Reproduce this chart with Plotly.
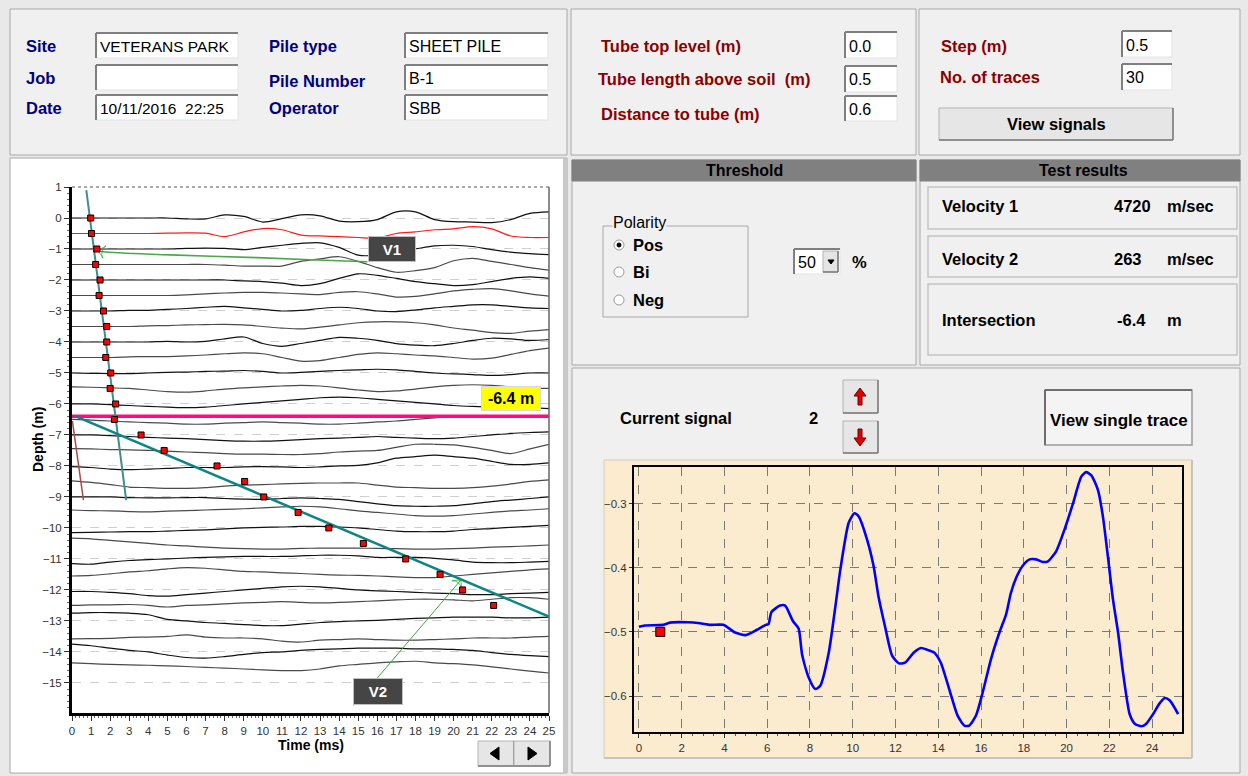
import plotly.graph_objects as go

# ------------------------------------------------------------------ data
time_ms = [0, 1, 2, 3, 4, 5, 6, 7, 8, 9, 10, 11, 12, 13, 14, 15, 16, 17, 18, 19, 20, 21, 22, 23, 24, 25]

trace_depths = [0.0, -0.5, -1.0, -1.5, -2.0, -2.5, -3.0, -3.5, -4.0, -4.5,
                -5.0, -5.5, -6.0, -6.5, -7.0, -7.5, -8.0, -8.5, -9.0, -9.5,
                -10.0, -10.5, -11.0, -11.5, -12.0, -12.5, -13.0, -13.5, -14.0, -14.5]

# trace amplitude, in cm of depth-scale offset, one value per ms
tr00 = [0, 0, 0, 0, 0, 0, -3, -3, 10, 5, -13, -2, 10, 7, -10, -12, -5, 20, 20, -5, -12, -13, -15, -5, 15, 20]
tr01 = [0, 0, 0, 0, 0, 1, 2, 1, -10, 5, 16, 12, -5, -8, -10, -13, -15, 0, 5, 12, 15, 22, 15, -8, -13, -13]
tr02 = [0, 0, 0, 0, 0, 0, 2, 3, 2, -2, 5, 12, 18, 20, 5, -20, -20, -10, 0, 10, 12, 8, -2, -10, -15, -18]
tr03 = [0, 0, 0, 0, 0, 0, 0, 0, -2, -5, -5, -5, 10, 18, 25, 10, -10, -25, -20, -10, 12, 20, 10, 0, -10, -18]
tr04 = [0, 0, 0, 0, 0, 0, 0, 0, 0, -3, -5, -10, -18, -12, 5, 20, 15, 5, -5, -12, -18, -15, -5, 5, 10, 5]
tr05 = [0, 0, 0, 0, 0, 0, 2, 5, 8, 10, 10, 8, 5, 3, 10, 12, 5, -5, -3, 5, 15, 20, 22, 15, 5, -2]
tr06 = [0, 0, 0, 2, 2, 5, 8, 12, 15, 10, 5, 0, 2, 8, 12, 8, 0, -2, 3, 10, 15, 20, 20, 15, 10, 8]
tr07 = [0, 0, 0, 0, 2, 3, 5, 6, 7, 5, 0, -5, -8, -2, 5, 12, 15, 15, 12, 5, -5, -12, -20, -22, -15, -10]
tr08 = [0, 0, 0, 0, 0, 2, 0, 2, 10, 16, -5, -14, -5, 5, 15, 12, 5, -5, -10, -12, -5, 5, 12, 10, 5, 8]
tr09 = [0, 0, 0, 2, 3, 3, 5, 8, 12, 15, 12, 0, -12, -10, 0, 10, 15, 12, 8, 5, 0, -5, -2, 10, 22, 30]
tr10 = [0, -1, -2, -2, 0, 2, 3, 5, 6, 8, 5, 0, 2, 5, 8, 10, 12, 10, 5, 0, -3, -5, -8, -5, 0, 0]
tr11 = [5, 4, 2, 0, -5, -10, -12, -8, -2, 2, 5, 8, 10, 8, 2, -5, -10, -8, -2, 5, 10, 12, 10, 5, 2, 0]
tr12 = [0, 0, -2, -5, -8, -10, -12, -10, -5, 0, 5, 10, 15, 20, 22, 20, 15, 10, 5, 0, -5, -8, -10, -10, -12, -15]
tr13 = [0, -2, -5, -8, -10, -12, -15, -15, -12, -10, -8, -10, -12, -15, -15, -12, -8, -5, 0, 5, 10, 10, 10, 10, 10, 10]
tr14 = [0, 0, -2, -5, -8, -10, -12, -15, -18, -20, -20, -18, -15, -12, -10, -8, -5, -8, -10, -12, -10, -5, 0, 5, 8, 10]
tr15 = [6, 5, 3, 2, 0, -2, -5, -7, -10, -12, -12, -13, -13, -10, -5, -2, 0, 10, 20, 20, 18, 10, 0, -10, 5, 20]
tr16 = [-2, -5, -10, -12, -10, -8, -5, -5, -5, -3, -2, -3, -5, -3, 0, 2, 10, 25, 30, 35, 30, 25, 15, 5, 5, 10]
tr17 = [2, -3, -10, -18, -20, -22, -22, -20, -15, -12, -10, -8, -6, -5, -5, -5, -12, -18, -20, -22, -22, -20, -15, -8, 0, 5]
tr18 = [0, 0, 0, -2, -3, -3, -2, -2, -5, -7, -8, -5, -3, -5, -8, -15, -22, -28, -30, -30, -28, -22, -15, -10, -5, 0]
tr19 = [8, 6, 5, 3, 2, 4, 6, 8, 10, 12, 15, 18, 20, 18, 12, 5, 0, -5, -10, -12, -10, -5, 0, 5, 8, 12]
tr20 = [-15, -14, -13, -12, -12, -10, -8, -6, -3, 0, 2, 3, 5, 5, 3, 0, -5, -10, -12, -12, -10, -5, -2, 2, 5, 8]
tr21 = [17, 15, 10, 5, 0, -5, -8, -12, -15, -17, -18, -18, -16, -15, -15, -15, -16, -17, -18, -18, -17, -15, -12, -10, -8, -5]
tr22 = [-15, -17, -10, -5, -2, 0, 3, 5, 7, 8, 8, 8, 10, 12, 12, 10, 5, 5, 5, 2, -3, -10, -12, -12, -10, -8]
tr23 = [-5, -3, 2, 8, 12, 18, 22, 20, 15, 10, 8, 5, 3, 0, -2, -3, -5, -8, -10, -10, -5, 0, 5, 10, 15, 18]
tr24 = [-5, -5, -8, -12, -18, -20, -15, -10, -5, 0, 5, 10, 12, 10, 5, 0, -3, -5, -8, -10, -12, -15, -15, -12, -10, -8]
tr25 = [0, 2, 2, 3, 0, -5, 0, 2, 5, 8, 10, 12, 10, 8, 10, 12, 15, 18, 20, 20, 18, 15, 20, 25, 25, 20]
tr26 = [25, 27, 27, 25, 20, 5, 0, -5, -8, -12, -15, -15, -10, -5, -2, 0, 2, 5, 8, 10, 12, 12, 12, 10, 10, 12]
tr27 = [-8, -7, -6, -3, -2, 0, 5, -2, -5, -5, -8, -15, -18, -12, -10, -8, -10, -12, -12, -10, -8, -5, -5, -5, -2, 0]
tr28 = [25, 20, 12, 5, 0, -10, -18, -20, -15, -8, -2, 0, 5, 8, 10, 12, 12, 12, 10, 10, 8, 5, -2, -8, -12, -15]
tr29 = [15, 12, 10, 8, 7, 5, 3, 0, -2, -5, -8, -10, -10, -5, 5, 10, 15, 18, 20, 15, 12, 8, 2, -5, -12, -18]
trace_offsets = [tr00, tr01, tr02, tr03, tr04, tr05, tr06, tr07, tr08, tr09,
                 tr10, tr11, tr12, tr13, tr14, tr15, tr16, tr17, tr18, tr19,
                 tr20, tr21, tr22, tr23, tr24, tr25, tr26, tr27, tr28, tr29]
current_trace = 1

pick_time = [0.98, 1.02, 1.3, 1.24, 1.47, 1.42, 1.65, 1.82, 1.82, 1.77, 2.03, 2.0, 2.29,
             2.22, 3.62, 4.83, 7.6, 9.05, 10.05, 11.85, 13.46, 15.27, 17.49, 19.29, 20.47, 22.1]
pick_depth = [0.0, -0.5, -1.0, -1.5, -2.0, -2.5, -3.0, -3.5, -4.0, -4.5, -5.0, -5.5, -6.0,
              -6.5, -7.0, -7.5, -8.0, -8.5, -9.0, -9.5, -10.0, -10.5, -11.0, -11.5, -12.0, -12.5]

v1_time = [0.75, 2.84]
v1_depth = [0.9, -9.1]
v2_time = [0.2, 25.0]
v2_depth = [-6.4, -12.86]
aux_time = [0.02, 0.6]
aux_depth = [-6.55, -9.1]
intersection_time = [0, 25]
intersection_depth = [-6.4, -6.4]
arrow1_time = [15.48, 12.85, 9.7, 5.15, 1.65, 1.38]
arrow1_depth = [-1.41, -1.355, -1.28, -1.19, -1.09, -1.05]
arrow2_time = [14.77, 20.38]
arrow2_depth = [-15.73, -11.68]

depth_ticks = [1, 0, -1, -2, -3, -4, -5, -6, -7, -8, -9, -10, -11, -12, -13, -14, -15]
time_ticks = [0, 1, 2, 3, 4, 5, 6, 7, 8, 9, 10, 11, 12, 13, 14, 15, 16, 17, 18, 19, 20, 21, 22, 23, 24, 25]

sig_time = [0, 0.28, 1.14, 1.45, 2.3, 2.86, 3.33, 3.95, 4.5, 5.0, 5.5, 5.94, 6.06, 6.2, 6.6, 6.84, 7.2,
            7.47, 7.63, 7.94, 8.25, 8.48, 8.88, 9.19, 9.42, 9.81, 10.08, 10.28, 10.67, 10.98, 11.2, 11.5,
            11.84, 12.16, 12.45, 12.86, 13.19, 13.5, 13.81, 14.12, 14.6, 14.9, 15.22, 15.45, 15.77, 16.08,
            16.47, 16.86, 17.17, 17.4, 17.64, 17.95, 18.27, 18.58, 18.89, 19.13, 19.52, 19.9, 20.3, 20.69,
            20.92, 21.16, 21.47, 21.7, 21.95, 22.17, 22.41, 22.64, 22.95, 23.19, 23.5, 23.73, 24.05, 24.36,
            24.6, 24.83, 25.22]
sig_value = [-0.492, -0.490, -0.489, -0.4855, -0.485, -0.4866, -0.489, -0.489, -0.501, -0.505, -0.497,
             -0.489, -0.488, -0.469, -0.459, -0.459, -0.483, -0.495, -0.535, -0.571, -0.589, -0.584,
             -0.532, -0.46, -0.403, -0.33, -0.315, -0.32, -0.356, -0.398, -0.444, -0.49, -0.537, -0.549,
             -0.548, -0.532, -0.525, -0.528, -0.532, -0.548, -0.599, -0.63, -0.646, -0.646, -0.63, -0.594,
             -0.542, -0.501, -0.473, -0.439, -0.416, -0.397, -0.387, -0.387, -0.391, -0.39, -0.374, -0.341,
             -0.3, -0.258, -0.251, -0.256, -0.279, -0.32, -0.387, -0.449, -0.501, -0.563, -0.628, -0.643,
             -0.647, -0.643, -0.628, -0.611, -0.603, -0.607, -0.628]
sig_pick_time = [1.0]
sig_pick_value = [-0.5]
sig_xticks = [0, 2, 4, 6, 8, 10, 12, 14, 16, 18, 20, 22, 24]
sig_yticks = [-0.6, -0.5, -0.4, -0.3]

# ------------------------------------------------------------------ helpers
W, H = 1248, 776
FONT = "Liberation Sans, Arial, sans-serif"
NAVY = "#000080"
DRED = "#8b0000"


def PX(x):
    return x / W


def PY(y):
    return 1 - y / H


shapes = []
annos = []


def rect(x0, y0, x1, y1, fill, line="#a0a0a0", lw=1, layer="below", dash="solid"):
    shapes.append(dict(type="rect", xref="paper", yref="paper", x0=PX(x0), x1=PX(x1),
                       y0=PY(y1), y1=PY(y0), fillcolor=fill,
                       line=dict(color=line, width=lw, dash=dash), layer=layer))


def seg(x0, y0, x1, y1, color, lw=1, dash="solid", layer="below"):
    shapes.append(dict(type="line", xref="paper", yref="paper", x0=PX(x0), x1=PX(x1),
                       y0=PY(y0), y1=PY(y1), line=dict(color=color, width=lw, dash=dash), layer=layer))


def poly(pts, fill, line="#000000", lw=1, layer="above"):
    p = "M " + " L ".join(f"{PX(a):.5f},{PY(b):.5f}" for a, b in pts) + " Z"
    shapes.append(dict(type="path", xref="paper", yref="paper", path=p, fillcolor=fill,
                       line=dict(color=line, width=lw), layer=layer))


def circle(cx, cy, r, fill, line="#808080", lw=1):
    shapes.append(dict(type="circle", xref="paper", yref="paper", x0=PX(cx - r), x1=PX(cx + r),
                       y0=PY(cy + r), y1=PY(cy - r), fillcolor=fill, line=dict(color=line, width=lw),
                       layer="above"))


def text(x, y, s, size=16.5, color="#000000", bold=True, xanchor="left", bg=None, angle=0):
    d = dict(xref="paper", yref="paper", x=PX(x), y=PY(y), text=(f"<b>{s}</b>" if bold else s),
             showarrow=False, xanchor=xanchor, yanchor="middle", textangle=angle,
             font=dict(family=FONT, size=size, color=color), borderpad=0)
    if bg:
        d["bgcolor"] = bg
    annos.append(d)


def inputbox(x0, y0, x1, y1, s, size=16):
    rect(x0, y0, x1, y1, "#ffffff", line="#e3e3e3")
    seg(x0, y0, x1, y0, "#7f7f7f", 2)
    seg(x0, y0, x0, y1, "#7f7f7f", 2)
    if s:
        text(x0 + 3, (y0 + y1) / 2 + 1, s, size=size, bold=False)


def button(x0, y0, x1, y1, s=None, size=16.5, fill="#e6e6e6"):
    rect(x0, y0, x1, y1, fill, line="#b4b4b4")
    seg(x0, y1, x1, y1, "#7a7a7a", 1.5)
    seg(x1, y0, x1, y1, "#7a7a7a", 1.5)
    if s:
        text((x0 + x1) / 2, (y0 + y1) / 2, s, size=size, xanchor="center")


PANEL = "#f0f0f0"
# ------------------------------------------------------------------ panels
rect(10, 9, 567, 155, PANEL, line="#a8a8a8")
rect(571, 9, 916, 155, PANEL, line="#a8a8a8")
rect(919, 9, 1240, 155, PANEL, line="#a8a8a8")
rect(10, 158, 567, 773, "#ffffff", line="#a8a8a8")
seg(565, 158, 565, 773, "#c8c8c8", 4)
rect(572, 160, 916, 365, PANEL, line="#a8a8a8")
rect(920, 160, 1240, 365, PANEL, line="#a8a8a8")
rect(572, 160, 916, 181, "#808080", line="#808080")
rect(920, 160, 1240, 181, "#808080", line="#808080")
rect(572, 368, 1240, 773, PANEL, line="#a8a8a8")
rect(604, 460, 1192, 758, "#fbebcf", line="#d9ccb2")
seg(604, 758, 1192, 758, "#c4c4c4", 2)
seg(1192, 460, 1192, 758, "#c4c4c4", 2)

# top-left panel
text(25, 46, "Site", color=NAVY)
text(25, 78, "Job", color=NAVY)
text(25, 108, "Date", color=NAVY)
text(268, 46, "Pile type", color=NAVY)
text(268, 81, "Pile Number", color=NAVY)
text(268, 108, "Operator", color=NAVY)
inputbox(96, 33, 238, 58, "VETERANS PARK", size=15.5)
inputbox(96, 65, 238, 90, "")
inputbox(96, 95, 238, 120, "10/11/2016  22:25", size=15.5)
inputbox(405, 33, 548, 58, "SHEET PILE")
inputbox(405, 65, 548, 90, "B-1")
inputbox(405, 95, 548, 120, "SBB")

# top-middle panel
text(600, 46, "Tube top level (m)", color=DRED)
text(597, 79, "Tube length above soil  (m)", color=DRED)
text(600, 114, "Distance to tube (m)", color=DRED)
inputbox(845, 32, 897, 58, "0.0")
inputbox(845, 66, 897, 92, "0.5")
inputbox(845, 96, 897, 121, "0.6")

# top-right panel
text(940, 46, "Step (m)", color=DRED)
text(939, 77, "No. of traces", color=DRED)
inputbox(1122, 31, 1172, 57, "0.5")
inputbox(1122, 64, 1172, 90, "30")
button(939, 108, 1173, 140, "View signals")

# threshold panel
text(744, 170, "Threshold", xanchor="center", size=16)
rect(603, 226, 748, 317, "rgba(0,0,0,0)", line="#a8a8a8")
text(612, 222, "Polarity", bold=False, bg=PANEL, size=16)
for cy, lab in [(245, "Pos"), (272, "Bi"), (300, "Neg")]:
    circle(619, cy, 5, "#ffffff", line="#9a9a9a")
    text(632, cy, lab, size=16.5)
circle(619, 245, 2, "#000000", line="#000000")
inputbox(794, 249, 840, 274, "50")
button(823, 251, 838, 272, None, fill="#e4e4e4")
poly([(828, 260), (834, 260), (831, 264)], "#000000", line="#000000")
text(851, 262, "%", size=16.5)

# test results panel
text(1083, 170, "Test results", xanchor="center", size=16)
for (y0, y1) in [(187, 229), (236, 277), (284, 355)]:
    rect(928, y0, 1237, y1, PANEL, line="#c4c4c4", lw=1.5)
text(941, 206, "Velocity 1")
text(1113, 206, "4720")
text(1166, 206, "m/sec")
text(941, 259, "Velocity 2")
text(1113, 259, "263")
text(1166, 259, "m/sec")
text(941, 320, "Intersection")
text(1116, 320, "-6.4")
text(1166, 320, "m")

# current-signal controls
text(619, 418, "Current signal")
text(808, 418, "2")
button(843, 380, 878, 413)
button(843, 421, 878, 453)
poly([(858, 405), (858, 396), (854, 396), (860, 388), (866, 396), (862, 396), (862, 405)],
     "#e00000", line="#700000")
poly([(858, 429), (858, 438), (854, 438), (860, 446), (866, 438), (862, 438), (862, 429)],
     "#e00000", line="#700000")
rect(1045, 390, 1192, 445, "#f4f4f4", line="#9a9a9a", lw=1.5)
seg(1045, 390, 1192, 390, "#6e6e6e", 2)
seg(1045, 390, 1045, 445, "#6e6e6e", 2)
text(1119, 421, "View single trace", xanchor="center", size=17)

# navigation buttons under the trace chart
button(478, 741, 514, 766)
button(514, 741, 550, 766)
poly([(499, 747), (490, 753.5), (499, 760)], "#000000", line="#000000")
poly([(528, 747), (537, 753.5), (528, 760)], "#000000", line="#000000")

# trace-chart frame (top dashed, right solid) and axis titles
seg(72, 187, 549, 187, "#555555", 1, dash="dot", layer="above")
seg(549, 187, 549, 713, "#666666", 1.5, layer="above")
text(38, 440, "Depth (m)", size=14, angle=-90, xanchor="center")
text(311, 745, "Time (ms)", size=14, xanchor="center")

# ------------------------------------------------------------------ figure
fig = go.Figure()

for i, (d, off) in enumerate(zip(trace_depths, trace_offsets)):
    col = "#ff1a1a" if i == current_trace else ("#111111" if i % 2 == 0 else "#4a4a4a")
    fig.add_trace(go.Scatter(x=time_ms, y=[d + o / 100 for o in off], mode="lines",
                             line=dict(color=col, width=1.2, shape="spline", smoothing=0.8),
                             xaxis="x", yaxis="y", hoverinfo="skip"))

fig.add_trace(go.Scatter(x=intersection_time, y=intersection_depth, mode="lines",
                         line=dict(color="#ff0a7f", width=3.5), xaxis="x", yaxis="y"))
fig.add_trace(go.Scatter(x=aux_time, y=aux_depth, mode="lines",
                         line=dict(color="#b04848", width=1.5), xaxis="x", yaxis="y"))
fig.add_trace(go.Scatter(x=v1_time, y=v1_depth, mode="lines",
                         line=dict(color="#3f8f8f", width=2), xaxis="x", yaxis="y"))
fig.add_trace(go.Scatter(x=v2_time, y=v2_depth, mode="lines",
                         line=dict(color="#0b8585", width=2.5), xaxis="x", yaxis="y"))
fig.add_trace(go.Scatter(x=arrow1_time, y=arrow1_depth, mode="lines+markers",
                         line=dict(color="#4aa84a", width=1.6, shape="spline"),
                         marker=dict(symbol="arrow-wide-open", angleref="previous",
                                     size=[0, 0, 0, 0, 0, 9], color="#2f9a2f",
                                     line=dict(color="#2f9a2f", width=1)),
                         xaxis="x", yaxis="y"))
fig.add_trace(go.Scatter(x=arrow2_time, y=arrow2_depth, mode="lines+markers",
                         line=dict(color="#3aa83a", width=1),
                         marker=dict(symbol="arrow-wide-open", angleref="previous",
                                     size=[0, 9], color="#2f9a2f",
                                     line=dict(color="#2f9a2f", width=1)),
                         xaxis="x", yaxis="y"))
fig.add_trace(go.Scatter(x=pick_time, y=pick_depth, mode="markers",
                         marker=dict(symbol="square", size=6, color="#ff0000",
                                     line=dict(color="#000000", width=1)),
                         xaxis="x", yaxis="y"))

# single trace
fig.add_trace(go.Scatter(x=sig_time, y=sig_value, mode="lines",
                         line=dict(color="#0000ff", width=2.6, shape="spline", smoothing=0.6),
                         xaxis="x2", yaxis="y2"))
fig.add_trace(go.Scatter(x=sig_pick_time, y=sig_pick_value, mode="markers",
                         marker=dict(symbol="square", size=9, color="#ff0000",
                                     line=dict(color="#000000", width=1)),
                         xaxis="x2", yaxis="y2"))

# data-anchored labels on the trace chart
box_font = dict(family=FONT, size=15, color="#ffffff")
annos.append(dict(xref="x", yref="y", x=16.78, y=-0.99, text="<b>V1</b>", showarrow=False,
                  width=46, height=24, bgcolor="#454545", bordercolor="#c0c0c0", borderwidth=1,
                  borderpad=0, font=box_font))
annos.append(dict(xref="x", yref="y", x=16.04, y=-15.29, text="<b>V2</b>", showarrow=False,
                  width=48, height=25, bgcolor="#454545", bordercolor="#c0c0c0", borderwidth=1,
                  borderpad=0, font=box_font))
annos.append(dict(xref="x", yref="y", x=23.0, y=-5.82, text="<b>-6.4 m</b>", showarrow=False,
                  width=58, height=23, bgcolor="#ffff00", bordercolor="#d8d8d8", borderwidth=1,
                  borderpad=0, font=dict(family=FONT, size=16, color="#000000")))

tickfont = dict(family=FONT, size=11.5, color="#333333")
fig.update_layout(
    width=W, height=H, autosize=False, showlegend=False,
    margin=dict(l=0, r=0, t=0, b=0, pad=0, autoexpand=False),
    paper_bgcolor="#e9e9e9", plot_bgcolor="rgba(0,0,0,0)",
    shapes=shapes, annotations=annos,
    xaxis=dict(domain=[PX(72), PX(549)], range=[0, 25], tickvals=time_ticks, automargin=False,
               ticks="outside", ticklen=5, tickwidth=1, tickcolor="#333333",
               minor=dict(dtick=0.2, ticklen=2, tickcolor="#666666", ticks="outside"),
               showgrid=False, zeroline=False, showline=True, linecolor="#000000",
               linewidth=3, tickfont=tickfont, anchor="y", fixedrange=True),
    yaxis=dict(domain=[PY(713), PY(187)], range=[-15.97, 1], tickvals=depth_ticks, automargin=False,
               ticks="outside", ticklen=5, tickwidth=1, tickcolor="#333333",
               minor=dict(dtick=0.2, ticklen=2, tickcolor="#666666", ticks="outside"),
               showgrid=True, gridcolor="#cfcfcf", griddash="dash", gridwidth=1,
               zeroline=False, showline=True, linecolor="#000000", linewidth=3,
               tickfont=tickfont, anchor="x", fixedrange=True),
    xaxis2=dict(domain=[PX(634), PX(1182)], range=[-0.23, 25.4], tickvals=sig_xticks, automargin=False,
                ticks="outside", ticklen=4, tickcolor="#333333",
                minor=dict(dtick=0.5, ticklen=2, tickcolor="#555555", ticks="outside"),
                showgrid=True, gridcolor="#7a7a7a", griddash="dash", gridwidth=1,
                zeroline=False, showline=True, mirror=True, linecolor="#000000", linewidth=2,
                tickfont=tickfont, anchor="y2", fixedrange=True),
    yaxis2=dict(domain=[PY(732), PY(467)], range=[-0.656, -0.243], tickvals=sig_yticks, automargin=False,
                ticks="outside", ticklen=3, tickcolor="#333333",
                showgrid=True, gridcolor="#7a7a7a", griddash="dash", gridwidth=1,
                zeroline=False, showline=True, mirror=True, linecolor="#000000", linewidth=2,
                tickfont=tickfont, anchor="x2", fixedrange=True),
)

fig.write_html("out.html", config={"displayModeBar": False},
               post_script="document.body.style.margin='0px';document.body.style.overflow='hidden';")
